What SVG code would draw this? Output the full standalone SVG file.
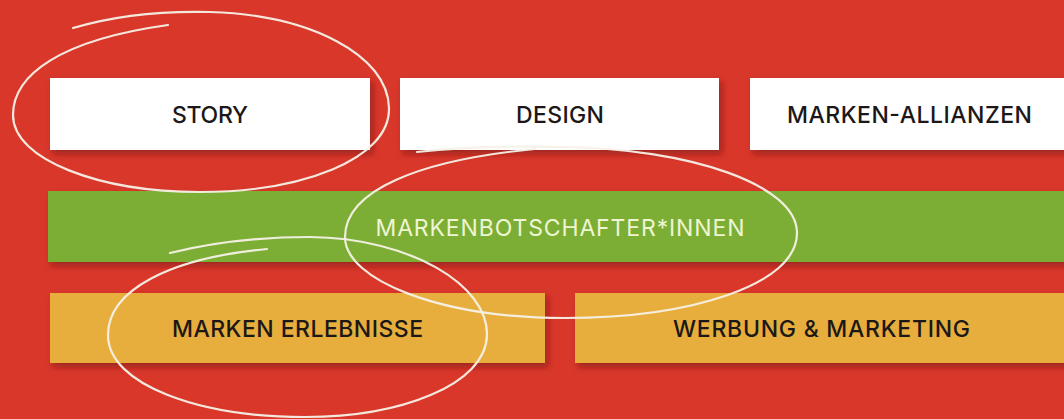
<svg xmlns="http://www.w3.org/2000/svg" width="1064" height="419" viewBox="0 0 1064 419">
  <defs>
    <filter id="shadow" x="-5%" y="-20%" width="115%" height="160%">
      <feDropShadow dx="3" dy="4" stdDeviation="3" flood-color="#6e120a" flood-opacity="0.55"/>
    </filter>
    <style>
      .box { filter: url(#shadow); }
      .white { fill: #ffffff; }
      .green { fill: #7cae35; }
      .yellow { fill: #e7ae3c; }
      .lbl { font-family: Inter, "Liberation Sans", Arial, sans-serif; font-weight: 500; font-size: 23px; fill: #1c1818; text-anchor: middle; }
      .lbl-light { font-family: Inter, "Liberation Sans", Arial, sans-serif; font-weight: 400; font-size: 23px; fill: #eef5d2; text-anchor: middle; }
      .chalk { fill: none; stroke: #f6f1e7; stroke-width: 2.2; stroke-linecap: round; stroke-linejoin: round; opacity: 0.95; }
    </style>
  </defs>

  <rect x="0" y="0" width="1064" height="419" fill="#d8372a"/>

  <g id="node-story">
    <rect class="box white" x="50" y="78" width="320" height="72"/>
    <text class="lbl" x="210" y="123" textLength="76" lengthAdjust="spacing">STORY</text>
  </g>
  <g id="node-design">
    <rect class="box white" x="400" y="78" width="319" height="72"/>
    <text class="lbl" x="560" y="123" textLength="88" lengthAdjust="spacing">DESIGN</text>
  </g>
  <g id="node-marken-allianzen">
    <rect class="box white" x="750" y="78" width="320" height="72"/>
    <text class="lbl" x="909.5" y="123" textLength="245" lengthAdjust="spacing">MARKEN-ALLIANZEN</text>
  </g>
  <g id="node-markenbotschafter">
    <rect class="box green" x="48" y="191" width="1022" height="71"/>
    <text class="lbl-light" x="560" y="236" textLength="369" lengthAdjust="spacing">MARKENBOTSCHAFTER*INNEN</text>
  </g>
  <g id="node-marken-erlebnisse">
    <rect class="box yellow" x="50" y="293" width="495" height="70"/>
    <text class="lbl" x="297.5" y="337" textLength="251" lengthAdjust="spacing">MARKEN ERLEBNISSE</text>
  </g>
  <g id="node-werbung">
    <rect class="box yellow" x="575" y="293" width="495" height="70"/>
    <text class="lbl" x="821.5" y="337" textLength="297" lengthAdjust="spacing">WERBUNG &amp; MARKETING</text>
  </g>

  <g id="connectors">
    <path class="chalk" d="M73,28 C120,14 170,11 210,12 C310,15 388,55 389,108 C390,160 300,192 200,192 C100,192 13,160 13,115 C13,75 60,40 168,25"/>
    <path class="chalk" d="M417,152 C470,146 520,146 560,147 C690,148 797,185 797,233 C797,285 690,318 565,318 C440,318 345,280 345,237 C345,190 420,160 535,149"/>
    <path class="chalk" d="M170,253 C210,243 260,237 310,237 C410,238 488,285 487,335 C486,385 400,417 305,417 C200,417 108,385 108,335 C108,290 170,258 267,249"/>
  </g>
</svg>
